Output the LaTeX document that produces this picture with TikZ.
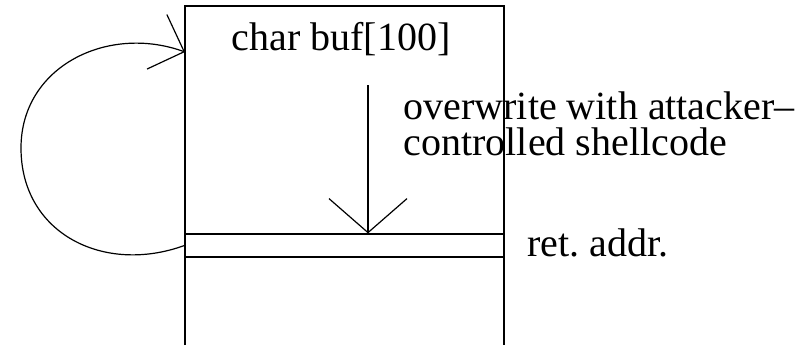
\documentclass[tikz,border=0pt]{standalone}
\usepackage{fontspec}
\setmainfont{Liberation Serif}
\usetikzlibrary{arrows.meta,positioning,calc}

\tikzset{
	lbl/.style={font=\fontsize{20}{18}\selectfont, inner sep=0pt, anchor=base west},
	vee/.style 2 args={-{Straight Barb[length=#1,width=#2]}},
}

\begin{document}
\begin{tikzpicture}[x=0.5pt,y=0.5pt,line width=0.6pt]
		\useasboundingbox (0,0) rectangle (805,345);
		%
		\coordinate (bl) at (185,0);
		\coordinate (tl) at (185,339);
		\coordinate (tr) at (504,339);
		\coordinate (br) at (504,0);
		\draw (bl) -- (tl) -- (tr) -- (br);
		\node [draw, inner sep=0pt, minimum width=159.5pt, minimum height=11.5pt] at (344.5,99.5) (ret) {};
		%
		\node [lbl] at (231,295) (buf) {char buf[100]};
		\node [lbl, align=left] at (403,190) (ow) {overwrite with attacker--\\controlled shellcode};
		\node [lbl] at (527,89) (addr) {ret.\ addr.};
		%
		\coordinate (src) at (368,260);
		\coordinate (lp) at (21,197);
		\coordinate (entry) at (185,293);
		\draw [vee={17pt}{39pt}] (src) -- (src |- ret.north);
		\draw [vee={14.5pt}{29pt}] (ret.west) to[out=200,in=270,looseness=1.15] (lp)
			to[out=90,in=160,looseness=1.1] (entry);
	\end{tikzpicture}
\end{document}
